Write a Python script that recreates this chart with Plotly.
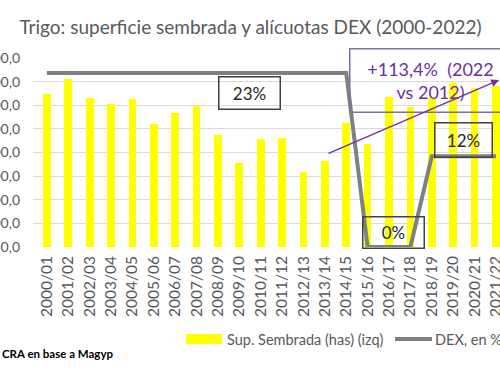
import plotly.graph_objects as go

campanas = ["2000/01", "2001/02", "2002/03", "2003/04", "2004/05", "2005/06",
            "2006/07", "2007/08", "2008/09", "2009/10", "2010/11", "2011/12",
            "2012/13", "2013/14", "2014/15", "2015/16", "2016/17", "2017/18",
            "2018/19", "2019/20", "2020/21", "2021/22"]
superficie_has = [6480000, 7120000, 6310000, 6060000, 6270000, 5210000,
                  5680000, 5970000, 4750000, 3560000, 4580000, 4620000,
                  3180000, 3640000, 5250000, 4360000, 6360000, 5930000,
                  6310000, 6950000, 6740000, 6800000]
dex_pct = [23, 23, 23, 23, 23, 23, 23, 23, 23, 23, 23, 23, 23, 23, 23,
           0, 0, 0, 12, 12, 12, 12]
y_tickvals = [0, 1000000, 2000000, 3000000, 4000000, 5000000, 6000000, 7000000, 8000000]
y_ticktext = ["0,0", "1.000.000,0", "2.000.000,0", "3.000.000,0", "4.000.000,0",
              "5.000.000,0", "6.000.000,0", "7.000.000,0", "8.000.000,0"]

W, H = 500, 380
L, R, T, B = 33, 500, 58, 247  # plot area in pixels


def px(x):
    return (x - L) / (R - L)


def py(y):
    return (B - y) / (B - T)


FONT = "Lato"
GRAY = "#595959"
PURPLE = "#7030a0"

fig = go.Figure()
fig.add_trace(go.Bar(x=campanas, y=superficie_has, marker_color="#ffff00",
                     marker_line_width=0, width=0.36, name="Sup. Sembrada (has) (izq)",
                     showlegend=False))
fig.add_trace(go.Scatter(x=campanas, y=dex_pct, mode="lines", yaxis="y2",
                         line=dict(color="#808080", width=4), name="DEX, en %",
                         showlegend=False))

annotations = [
    dict(text="23%", x=px(249), y=py(92.5), width=60, height=31),
    dict(text="0%", x=px(393), y=py(232), width=60, height=30),
    dict(text="12%", x=px(463), y=py(139.5), width=56, height=33),
]
anns = []
for a in annotations:
    anns.append(dict(xref="paper", yref="paper", showarrow=False, borderpad=0,
                     xanchor="center", yanchor="middle",
                     bordercolor="#404040", borderwidth=1.5,
                     font=dict(family=FONT, size=17, color="#262626"), **a))

anns.append(dict(xref="paper", yref="paper", x=px(430), y=py(80), width=160, height=62,
                 xanchor="center", yanchor="middle",
                 showarrow=False, borderpad=0, bordercolor="#7f6f9f", borderwidth=1.5,
                 text="+113,4%  (2022<br>vs 2012)",
                 font=dict(family=FONT, size=18, color=PURPLE)))
anns.append(dict(xref="paper", yref="paper", x=px(499), y=py(80), ax=-172, ay=74,
                 text="", showarrow=True, arrowhead=2, arrowsize=1.2, arrowwidth=1.3,
                 arrowcolor=PURPLE))
# legend texts
anns.append(dict(xref="paper", yref="paper", x=px(225), y=py(339), xanchor="left",
                 yanchor="middle", showarrow=False, text="Sup. Sembrada (has) (izq)",
                 font=dict(family=FONT, size=14.5, color=GRAY)))
anns.append(dict(xref="paper", yref="paper", x=px(433), y=py(339), xanchor="left",
                 yanchor="middle", showarrow=False, text="DEX, en %",
                 font=dict(family=FONT, size=14.5, color=GRAY)))
# source
anns.append(dict(xref="paper", yref="paper", x=px(0), y=py(353), xanchor="left",
                 yanchor="middle", showarrow=False, text="<b>CRA en base a Magyp</b>",
                 font=dict(family=FONT, size=11.5, color="#000000")))

shapes = [
    dict(type="rect", xref="paper", yref="paper", x0=px(186), x1=px(222),
         y0=py(344), y1=py(334), fillcolor="#ffff00", line_width=0),
    dict(type="line", xref="paper", yref="paper", x0=px(395), x1=px(432),
         y0=py(339), y1=py(339), line=dict(color="#808080", width=4)),
]

fig.update_layout(
    width=W, height=H,
    margin=dict(l=L, r=W - R, t=T, b=H - B, autoexpand=False),
    paper_bgcolor="white", plot_bgcolor="white",
    title=dict(text="Trigo: superficie sembrada y alícuotas DEX (2000-2022)",
               x=px(250.5), xanchor="center", xref="paper", y=1 - 27 / H, yanchor="middle",
               font=dict(family=FONT, size=19, color=GRAY)),
    font=dict(family=FONT, color=GRAY),
    bargap=0,
    xaxis=dict(type="category", range=[-0.65, 21.19], tickangle=-90,
               tickfont=dict(family=FONT, size=15.5, color=GRAY), showgrid=False,
               showline=False, ticks="", automargin=False, ticklabelstandoff=5),
    yaxis=dict(range=[0, 8000000], tickvals=y_tickvals, ticktext=y_ticktext,
               showgrid=True, gridcolor="#d9d9d9", gridwidth=1, zeroline=False,
               tickfont=dict(family=FONT, size=14, color=GRAY), ticklabelstandoff=12,
               automargin=False, showline=False),
    yaxis2=dict(range=[0, 25], overlaying="y", side="right", visible=False),
    annotations=anns,
    shapes=shapes,
    showlegend=False,
)

fig.write_html("out.html", post_script="document.body.style.margin='0';",
               config={"displayModeBar": False})
